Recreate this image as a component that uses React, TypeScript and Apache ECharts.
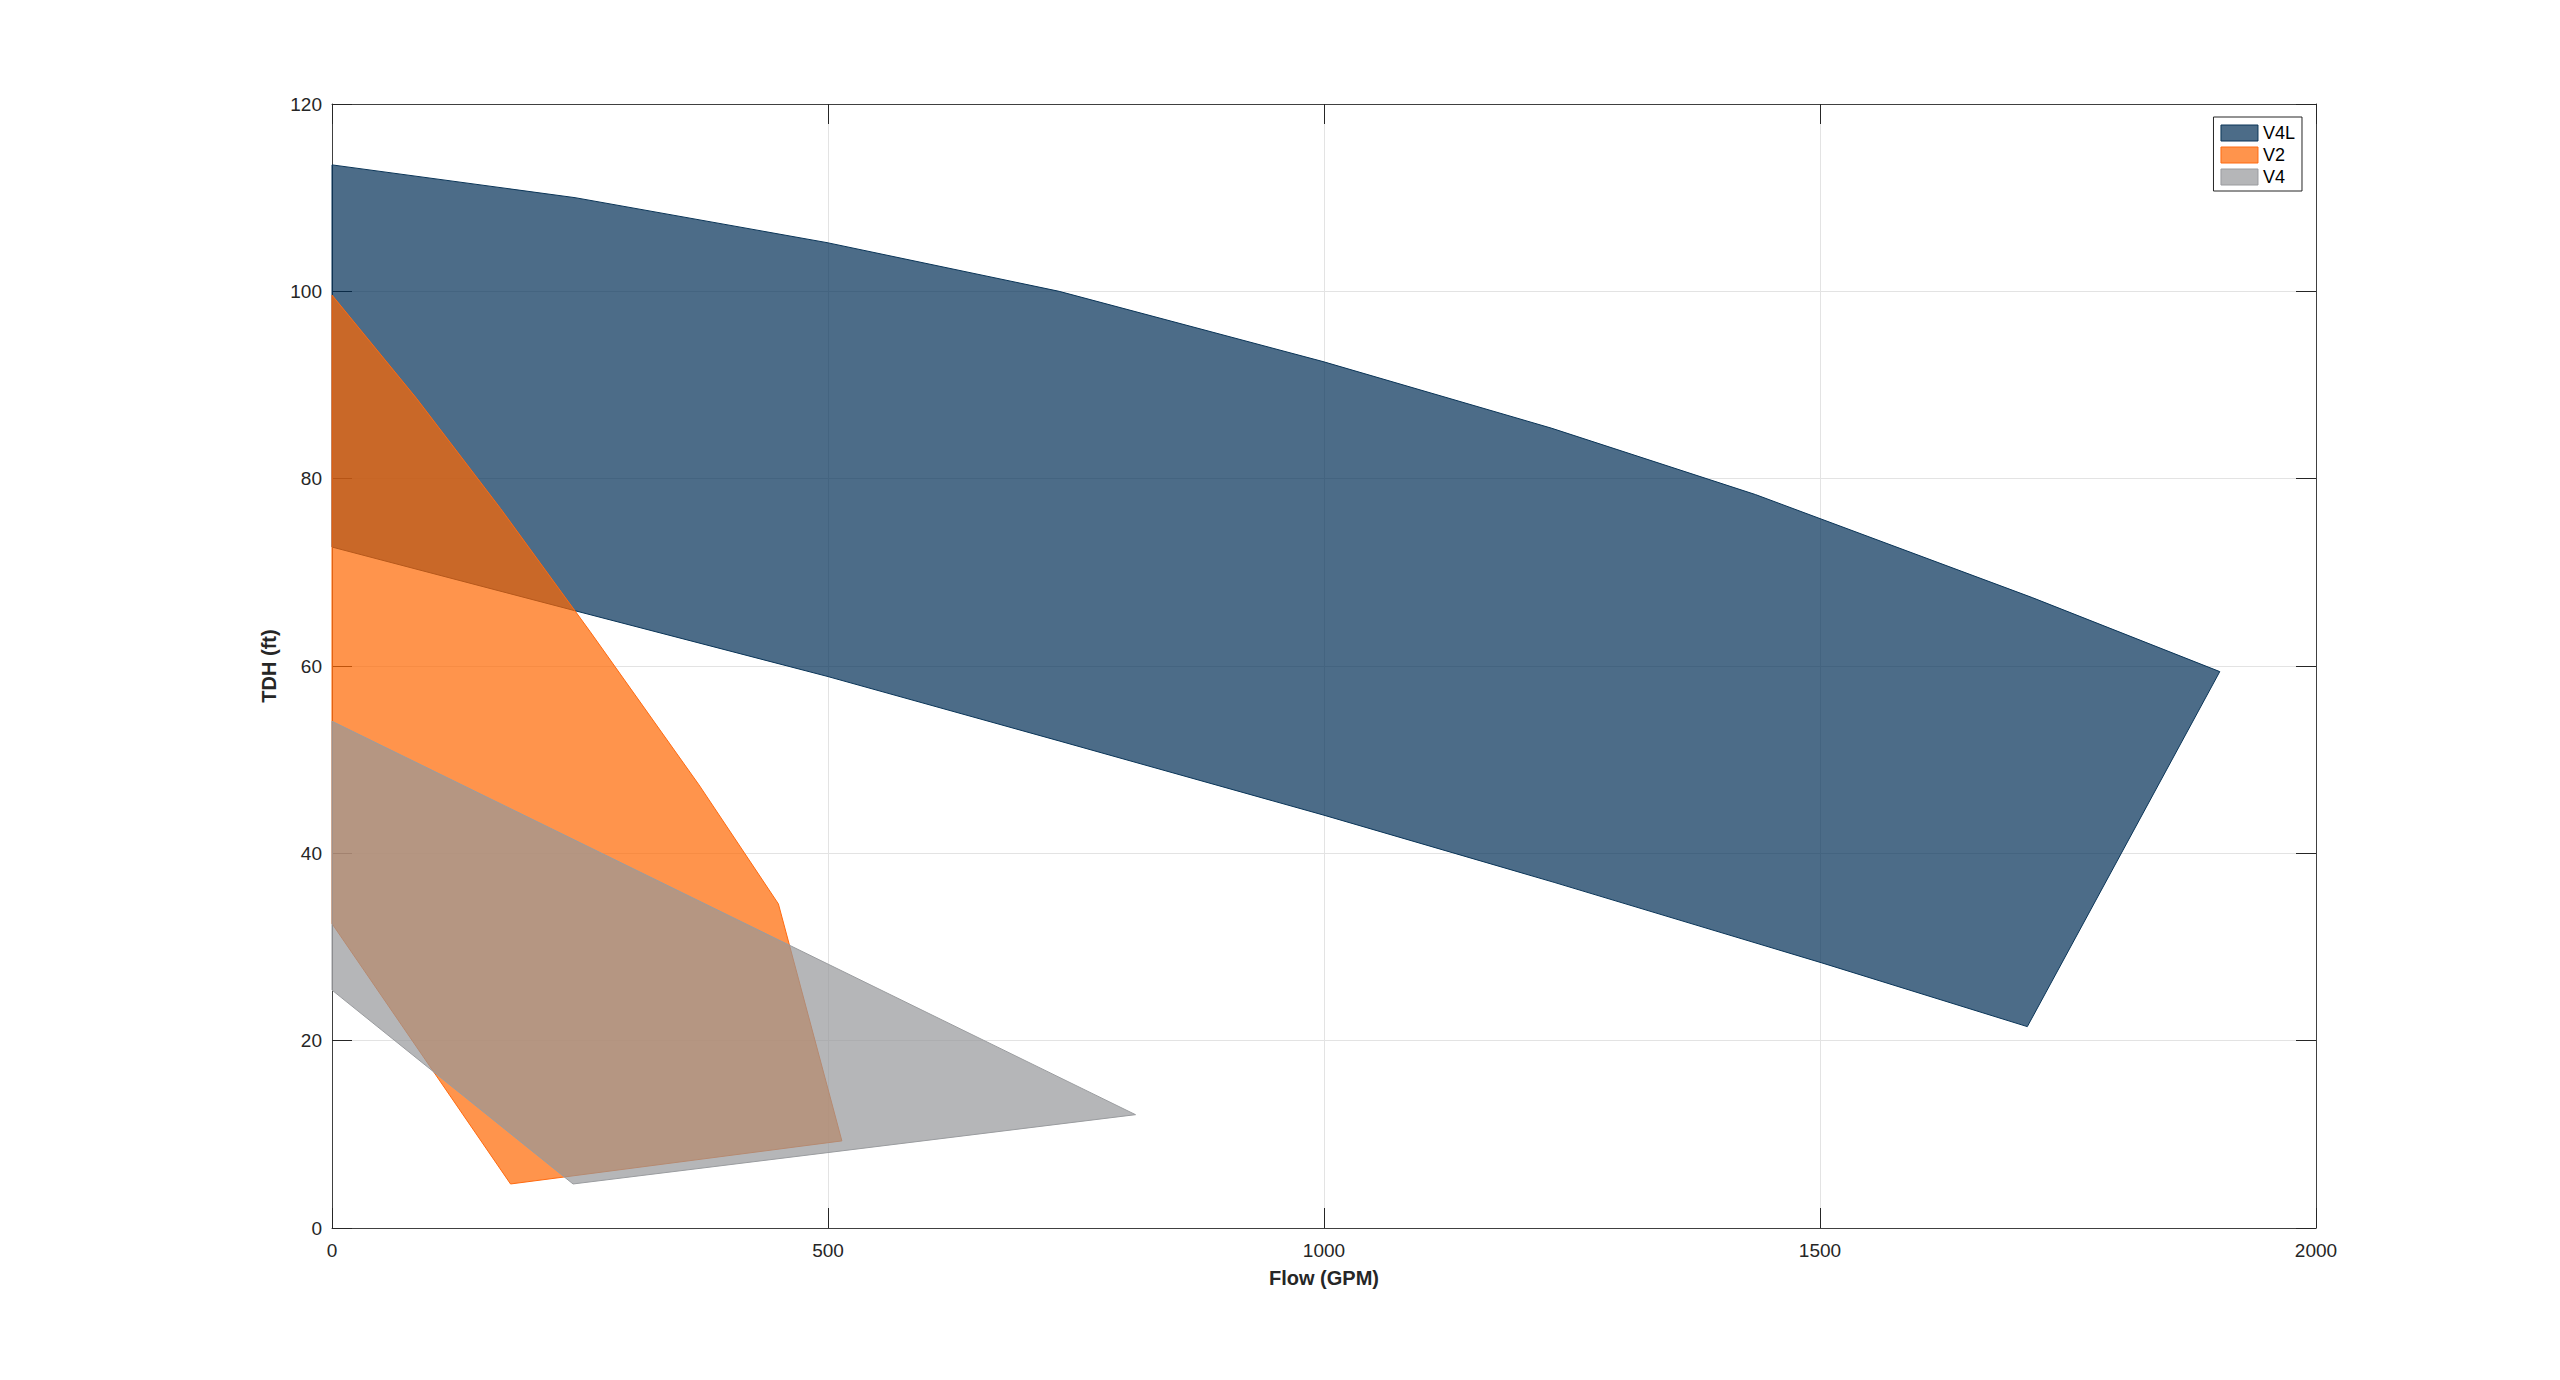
import { useEffect, useRef } from 'react'
import * as echarts from 'echarts'

// Operating envelopes (flow in GPM, head in ft), drawn as closed polygons
const seriesNames = ['V4L', 'V2', 'V4']

const v4lFlow = [0, 245, 499, 733, 999, 1229, 1435, 1714, 1903, 1709, 1502, 1232, 999, 733, 499, 245, 0]
const v4lHead = [113.5, 110.0, 105.2, 100.0, 92.5, 85.4, 78.3, 67.3, 59.4, 21.5, 28.3, 36.9, 44.1, 52.0, 58.9, 65.9, 72.7]

const v2Flow = [0, 85, 170, 260, 370, 450, 514, 180, 0]
const v2Head = [99.6, 88.6, 76.8, 63.7, 47.3, 34.6, 9.3, 4.7, 32.5]

const v4Flow = [0, 810, 243, 0]
const v4Head = [54.1, 12.1, 4.7, 25.4]

// axis ranges / ticks
const flowMin = 0
const flowMax = 2000
const flowStep = 500
const headMin = 0
const headMax = 120
const headStep = 20

const fills = ['rgba(0, 46, 86, 0.7)', 'rgba(255, 102, 0, 0.7)', 'rgba(149, 151, 154, 0.7)']
const strokes = ['#0a3558', '#ff6a10', '#9a9c9f']

const FONT = '"Liberation Sans", Arial, Helvetica, sans-serif'
const AXIS_COLOR = '#404040'
const TEXT_COLOR = '#262626'

function polygonSeries(name: string, flow: number[], head: number[], idx: number) {
  const pts = flow.map((q, i) => [q, head[i]])
  return {
    type: 'custom' as const,
    name,
    coordinateSystem: 'cartesian2d',
    data: pts,
    encode: { x: 0, y: 1 },
    silent: true,
    itemStyle: { color: fills[idx] },
    renderItem: (params: any, api: any) => {
      if (params.dataIndex !== 0) return null
      const points = pts.map((p) => api.coord(p))
      return {
        type: 'polygon',
        shape: { points },
        style: { fill: fills[idx], stroke: strokes[idx], lineWidth: 1 },
      }
    },
  }
}

export default function App() {
  const ref = useRef<HTMLDivElement>(null)

  useEffect(() => {
    document.body.style.margin = '0'
    if (!ref.current) return
    const chart = echarts.init(ref.current, null, { renderer: 'svg' })

    const commonX = {
      type: 'value' as const,
      min: flowMin,
      max: flowMax,
      interval: flowStep,
    }
    const commonY = {
      type: 'value' as const,
      min: headMin,
      max: headMax,
      interval: headStep,
    }
    const tick = { show: true, inside: true, length: 20, lineStyle: { color: TEXT_COLOR, width: 1 } }
    const line = { show: true, onZero: false, lineStyle: { color: AXIS_COLOR, width: 1 } }

    chart.setOption({
      animation: false,
      backgroundColor: '#ffffff',
      textStyle: { fontFamily: FONT },
      grid: { left: 332, right: 244, top: 104, bottom: 152, containLabel: false },
      legend: {
        orient: 'vertical',
        right: 258,
        top: 117,
        padding: [7, 7, 5, 7],
        itemWidth: 37,
        itemHeight: 16,
        itemGap: 4,
        backgroundColor: '#ffffff',
        borderColor: '#262626',
        borderWidth: 1,
        borderRadius: 0,
        textStyle: { fontSize: 18, color: '#000', fontFamily: FONT, lineHeight: 16, height: 16 },
        data: seriesNames.map((n, i) => ({
          name: n,
          icon: 'rect',
          itemStyle: { color: fills[i], borderColor: strokes[i], borderWidth: 1 },
        })),
      },
      xAxis: [
        {
          ...commonX,
          position: 'bottom',
          name: 'Flow (GPM)',
          nameLocation: 'middle',
          nameGap: 40,
          nameTextStyle: { fontSize: 20, fontWeight: 'bold', color: TEXT_COLOR, fontFamily: FONT },
          axisLine: line,
          axisTick: tick,
          axisLabel: {
            fontSize: 19,
            color: TEXT_COLOR,
            margin: 13,
            fontFamily: FONT,
            formatter: (v: number) => String(v),
          },
          splitLine: { show: true, lineStyle: { color: '#e3e3e3', width: 1 } },
        },
        {
          ...commonX,
          position: 'top',
          axisLine: line,
          axisTick: tick,
          axisLabel: { show: false },
          splitLine: { show: false },
        },
      ],
      yAxis: [
        {
          ...commonY,
          position: 'left',
          name: 'TDH (ft)',
          nameLocation: 'middle',
          nameGap: 53,
          nameRotate: 90,
          nameTextStyle: { fontSize: 20, fontWeight: 'bold', color: TEXT_COLOR, fontFamily: FONT },
          axisLine: line,
          axisTick: tick,
          axisLabel: {
            fontSize: 19,
            color: TEXT_COLOR,
            margin: 10,
            fontFamily: FONT,
            formatter: (v: number) => String(v),
          },
          splitLine: { show: true, lineStyle: { color: '#e3e3e3', width: 1 } },
        },
        {
          ...commonY,
          position: 'right',
          axisLine: line,
          axisTick: tick,
          axisLabel: { show: false },
          splitLine: { show: false },
        },
      ],
      series: [
        polygonSeries('V4L', v4lFlow, v4lHead, 0),
        polygonSeries('V2', v2Flow, v2Head, 1),
        polygonSeries('V4', v4Flow, v4Head, 2),
      ],
    })

    return () => chart.dispose()
  }, [])

  return <div ref={ref} style={{ position: 'fixed', left: 0, top: 0, width: 2560, height: 1380 }} />
}
